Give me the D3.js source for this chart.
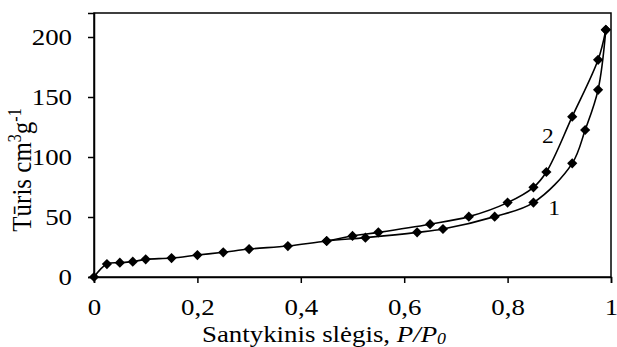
<!DOCTYPE html>
<html>
<head>
<meta charset="utf-8">
<script src="https://cdn.jsdelivr.net/npm/d3@7"></script>
<style>
  html, body { margin: 0; padding: 0; background: #fff; }
  svg text, svg tspan { font-family: "Liberation Serif", "Times New Roman", "DejaVu Serif", serif !important; fill: #000; }
</style>
</head>
<body>
<svg id="chart" width="617" height="347"></svg>
<script>
// Series 1: adsorption (lower branch)
const adsP = [0, 0.025, 0.05, 0.075, 0.1, 0.15, 0.2, 0.25, 0.3, 0.375, 0.45, 0.525, 0.625, 0.675, 0.775, 0.85, 0.925, 0.95, 0.975, 0.99];
const adsV = [0, 10.8, 11.9, 12.8, 14.7, 15.8, 18.3, 20.6, 23.3, 25.8, 30, 32.8, 37.2, 40, 50.3, 62, 94.7, 122.5, 156, 206];
// Series 2: desorption (upper branch)
const desP = [0.99, 0.975, 0.925, 0.875, 0.85, 0.8, 0.725, 0.65, 0.55, 0.5, 0.45];
const desV = [206, 181, 133.6, 87.5, 74.7, 62, 50.3, 44, 37.2, 34.2, 30];

const xTicks = [0, 0.2, 0.4, 0.6, 0.8, 1];
const xTickLabels = ["0", "0,2", "0,4", "0,6", "0,8", "1"];
const yTicks = [0, 50, 100, 150, 200];
const seriesLabels = [
  { name: "1", p: 0.89, v: 52 },
  { name: "2", p: 0.878, v: 112 }
];

const FONT = "'Liberation Serif', 'Times New Roman', 'DejaVu Serif', serif";
const SX = 1.12; // horizontal stretch of the reference's text
const svg = d3.select("#chart").attr("font-family", FONT);
const margin = { left: 94, right: 6, top: 13, bottom: 70 };
const W = 617, H = 347;
const x = d3.scaleLinear().domain([0, 1]).range([margin.left, W - margin.right]);
const y = d3.scaleLinear().domain([0, 220]).range([H - margin.bottom, margin.top]);

// frame
svg.append("rect")
  .attr("x", x(0)).attr("y", y(220))
  .attr("width", x(1) - x(0)).attr("height", y(0) - y(220))
  .attr("fill", "none").attr("stroke", "#000").attr("stroke-width", 1.5);

// axes
const xAxis = d3.axisBottom(x).tickValues(xTicks).tickSize(6).tickPadding(15)
  .tickFormat((d, i) => xTickLabels[i]);
const gx = svg.append("g").attr("transform", `translate(0,${y(0)})`).call(xAxis)
  .attr("font-family", FONT).attr("font-size", 24);
gx.select(".domain").attr("stroke", "#000").attr("stroke-width", 1.5);
gx.selectAll(".tick line").attr("stroke", "#000").attr("stroke-width", 1.5);
gx.selectAll(".tick text").attr("fill", "#000").attr("transform", `scale(${SX},1)`);

const yAxis = d3.axisLeft(y).tickValues(yTicks).tickSize(6).tickPadding(16);
const gy = svg.append("g").attr("transform", `translate(${x(0)},0)`).call(yAxis)
  .attr("font-family", FONT).attr("font-size", 24);
gy.select(".domain").attr("stroke", "#000").attr("stroke-width", 1.5);
gy.selectAll(".tick line").attr("stroke", "#000").attr("stroke-width", 1.5);
gy.selectAll(".tick text").attr("fill", "#000")
  .attr("x", -22 / SX).attr("transform", `scale(${SX},1)`);

// lines
const ads = adsP.map((p, i) => [p, adsV[i]]);
const des = desP.map((p, i) => [p, desV[i]]);
const line = d3.line().x(d => x(d[0])).y(d => y(d[1])).curve(d3.curveCatmullRom.alpha(0.5));
[ads, des].forEach(s => {
  svg.append("path").datum(s).attr("d", line)
    .attr("fill", "none").attr("stroke", "#000").attr("stroke-width", 1.6);
});

// markers
const diamond = d3.symbol().type(d3.symbolSquare).size(52);
[ads, des].forEach(s => {
  svg.append("g").selectAll("path").data(s).join("path")
    .attr("d", diamond)
    .attr("transform", d => `translate(${x(d[0])},${y(d[1])}) rotate(45)`)
    .attr("fill", "#000");
});

// series labels
svg.append("g").selectAll("text").data(seriesLabels).join("text")
  .attr("transform", d => `translate(${x(d.p)},${y(d.v)}) scale(${SX},1)`)
  .attr("text-anchor", "middle").attr("font-size", 21).attr("fill", "#000")
  .text(d => d.name);

// x title
const xt = svg.append("text").attr("transform", `translate(324,342) scale(${SX},1)`)
  .attr("text-anchor", "middle").attr("font-size", 24).attr("fill", "#000");
xt.append("tspan").text("Santykinis slėgis, ");
xt.append("tspan").attr("font-style", "italic").text("P/P");
xt.append("tspan").attr("font-style", "italic").attr("font-size", 16).attr("dy", 2).text("0");

// y title
const yt = svg.append("text")
  .attr("transform", `translate(31,170) scale(${SX},1) rotate(-90)`)
  .attr("text-anchor", "middle").attr("font-size", 25).attr("fill", "#000");
yt.append("tspan").text("Tūris cm");
yt.append("tspan").attr("font-size", 16).attr("dy", -9).text("3");
yt.append("tspan").attr("dy", 9).text("g");
yt.append("tspan").attr("font-size", 16).attr("dy", -9).text("-1");
</script>
</body>
</html>
